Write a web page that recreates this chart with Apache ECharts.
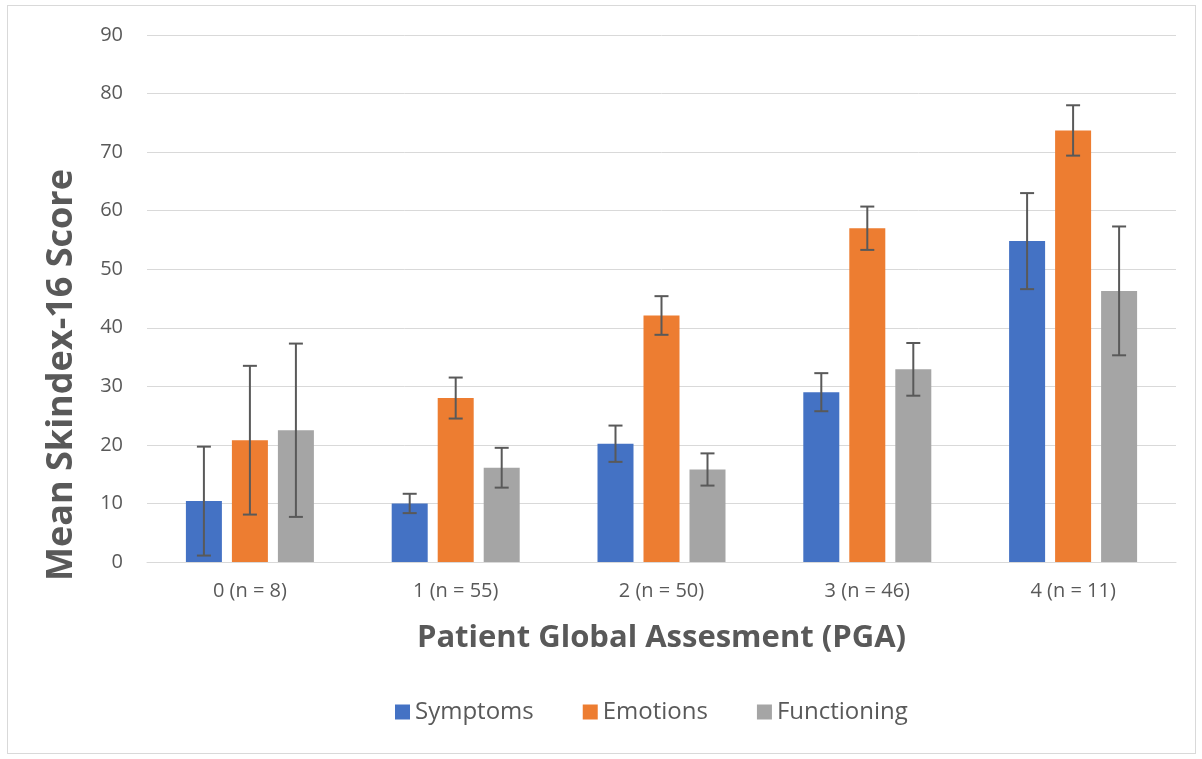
<!DOCTYPE html>
<html>
<head>
<meta charset="utf-8">
<script src="https://cdn.jsdelivr.net/npm/echarts@6/dist/echarts.min.js"></script>
<style>
html,body{margin:0;padding:0;background:#fff;}
#frame{position:absolute;left:7px;top:5px;width:1187px;height:747px;border:1px solid #d9d9d9;}
#chart{position:absolute;left:0;top:0;width:1202px;height:759px;}
</style>
</head>
<body>
<div id="frame"></div>
<div id="chart"></div>
<script>
const categories = ['0 (n = 8)', '1 (n = 55)', '2 (n = 50)', '3 (n = 46)', '4 (n = 11)'];
const seriesNames = ['Symptoms', 'Emotions', 'Functioning'];
const symptoms = [10.4, 10.0, 20.2, 29.0, 54.8];
const emotions = [20.8, 28.0, 42.1, 57.0, 73.7];
const functioning = [22.5, 16.1, 15.8, 32.9, 46.3];
const symptomsErr = [9.3, 1.65, 3.1, 3.25, 8.2];
const emotionsErr = [12.7, 3.5, 3.3, 3.7, 4.3];
const functioningErr = [14.8, 3.4, 2.75, 4.5, 11.0];
const yTicks = [0, 10, 20, 30, 40, 50, 60, 70, 80, 90];
const xTitle = 'Patient Global Assesment (PGA)';
const yTitle = 'Mean Skindex-16 Score';

const colors = ['#4472c4', '#ed7d31', '#a5a5a5'];
const FONT = '"Open Sans", sans-serif';
const BAR_W = 36, BAR_STEP = 46;

const values = [symptoms, emotions, functioning];
const errs = [symptomsErr, emotionsErr, functioningErr];

const chart = echarts.init(document.getElementById('chart'), null, {renderer: 'canvas'});

const barSeries = seriesNames.map((name, i) => ({
  name: name,
  type: 'bar',
  data: values[i],
  barWidth: BAR_W,
  barGap: ((BAR_STEP - BAR_W) / BAR_W * 100) + '%',
  itemStyle: {color: colors[i]},
  emphasis: {disabled: true},
  z: 2
}));

const errSeries = seriesNames.map((name, i) => ({
  type: 'custom',
  name: name + ' err',
  data: values[i].map((v, k) => [k, v - errs[i][k], v + errs[i][k]]),
  z: 5,
  silent: true,
  renderItem: function (params, api) {
    const k = api.value(0);
    const lo = api.coord([k, api.value(1)]);
    const hi = api.coord([k, api.value(2)]);
    const x = lo[0] + (i - 1) * BAR_STEP;
    const cap = 7;
    const st = {stroke: '#595959', lineWidth: 2};
    return {
      type: 'group',
      children: [
        {type: 'line', shape: {x1: x, y1: lo[1], x2: x, y2: hi[1]}, style: st},
        {type: 'line', shape: {x1: x - cap, y1: lo[1], x2: x + cap, y2: lo[1]}, style: st},
        {type: 'line', shape: {x1: x - cap, y1: hi[1], x2: x + cap, y2: hi[1]}, style: st}
      ]
    };
  }
}));

chart.setOption({
  animation: false,
  textStyle: {fontFamily: FONT},
  grid: {left: 147, right: 26, top: 35, bottom: 197, containLabel: false},
  graphic: [{
    type: 'text',
    x: 62, y: 375,
    rotation: Math.PI / 2,
    style: {
      text: yTitle,
      fontFamily: FONT, fontSize: 36, fontWeight: 'bold', fill: '#595959',
      align: 'center', verticalAlign: 'middle'
    }
  }],
  legend: {
    data: seriesNames,
    top: 695,
    left: 390,
    itemWidth: 15,
    itemHeight: 15,
    itemGap: 49,
    icon: 'rect',
    textStyle: {fontFamily: FONT, fontSize: 24, color: '#595959'}
  },
  xAxis: {
    type: 'category',
    data: categories,
    name: xTitle,
    nameLocation: 'middle',
    nameGap: 61,
    nameTextStyle: {fontFamily: FONT, fontSize: 31, fontWeight: 'bold', color: '#595959'},
    axisLine: {show: true, lineStyle: {color: '#d9d9d9', width: 1}},
    axisTick: {show: false},
    axisLabel: {fontFamily: FONT, fontSize: 20, color: '#595959', margin: 19}
  },
  yAxis: {
    type: 'value',
    min: yTicks[0],
    max: yTicks[yTicks.length - 1],
    interval: 10,
    axisLine: {show: false},
    axisTick: {show: false},
    axisLabel: {fontFamily: FONT, fontSize: 20, color: '#595959', margin: 24},
    splitLine: {lineStyle: {color: '#d9d9d9', width: 1}}
  },
  series: barSeries.concat(errSeries)
});
</script>
</body>
</html>
